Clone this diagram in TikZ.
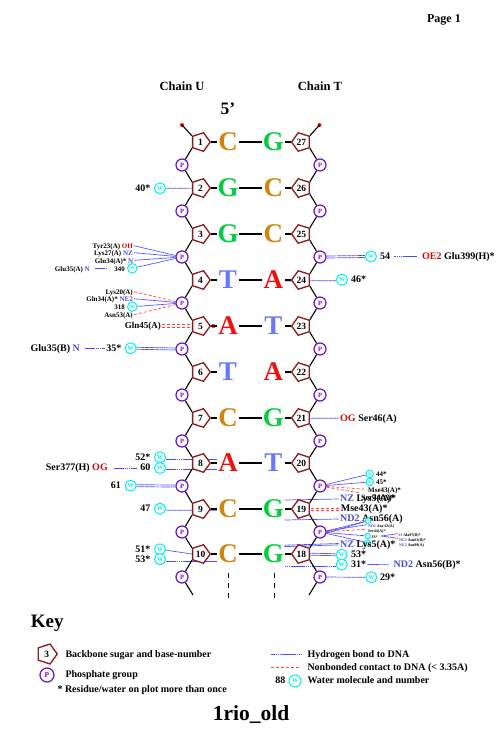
\documentclass[tikz,border=0pt]{standalone}
\usepackage{fontspec}
\setmainfont{Liberation Serif}
\usepackage{xcolor}
\usetikzlibrary{shapes.geometric,backgrounds}
\definecolor{sugarred}{HTML}{8B1A1A}
\definecolor{phospurple}{HTML}{6A10C8}
\definecolor{watercyan}{HTML}{00F0F0}
\definecolor{hbblue}{HTML}{4A4AFF}
\definecolor{nbred}{HTML}{FF4040}
\definecolor{atomred}{HTML}{CC0A0A}
\definecolor{atomblue}{HTML}{4A4AD8}
\definecolor{baseC}{HTML}{D0850F}
\definecolor{baseG}{HTML}{05CC40}
\definecolor{baseT}{HTML}{6A78FA}
\definecolor{baseA}{HTML}{F01010}
\newcommand{\px}[1]{\fontsize{#1}{#1}\selectfont\bfseries}
\newcommand{\atR}[1]{\textcolor{atomred}{#1}}
\newcommand{\atB}[1]{\textcolor{atomblue}{#1}}
\tikzset{
  sugarbox/.style={regular polygon,regular polygon sides=5,draw=sugarred,fill=white,line width=1.3pt,
    inner sep=0pt,minimum size=19.5pt,font=\px{9.5}},
  phos/.style={circle,draw=phospurple,text=phospurple,fill=white,line width=1.2pt,inner sep=0pt,
    minimum size=12pt,font=\px{6.5}},
  water/.style={circle,draw=watercyan,text=watercyan,fill=white,line width=1pt,inner sep=0pt,
    minimum size=11pt,font=\px{6}},
  watermid/.style={water,minimum size=9.5pt,font=\px{5}},
  watersm/.style={water,minimum size=7.5pt,font=\px{4}},
  waterti/.style={water,minimum size=5.5pt,font=\px{2.5}},
  basel/.style={inner sep=0pt,minimum width=22pt,font=\px{27}},
  lbl/.style={inner sep=1pt,text height=0.68em,text depth=0.14em,font=\px{#1}},
  lbl/.default=10,
  bb/.style={draw=black,line width=1.1pt},
  pairln/.style={draw=black,line width=1.2pt},
  hb/.style={draw=hbblue,line width=0.7pt,dash pattern=on 1.7pt off 0.4pt},
  nb/.style={draw=nbred,line width=0.7pt,dash pattern=on 3pt off 2pt},
}
\begin{document}
\begin{tikzpicture}[x=1pt,y=-1pt,font=\px{10}]
  \useasboundingbox (0,0) rectangle (502,752);
  %% headings
  \node[lbl=12,anchor=east] (page) at (462,20) {Page 1};
  \node[lbl=12.5] (chainU) at (182,88) {Chain U};
  \node[lbl=12.5] (chainT) at (320,88) {Chain T};
  \node[lbl=17.5] (fivep) at (228,112) {5’};
  %% backbone sugars, bases and phosphates, row by row
  \foreach \r/\yy/\bU/\cU/\bT/\cT/\nT/\pr in {
      1/142/C/baseC/G/baseG/27/1, 2/188/G/baseG/C/baseC/26/1, 3/234/G/baseG/C/baseC/25/1,
      4/280/T/baseT/A/baseA/24/1, 5/326/A/baseA/T/baseT/23/1, 6/372/T/baseT/A/baseA/22/0,
      7/418/C/baseC/G/baseG/21/1, 8/463/A/baseA/T/baseT/20/1, 9/509/C/baseC/G/baseG/19/1,
      10/554/C/baseC/G/baseG/18/1}{
    \node[sugarbox,shape border rotate=-90] (sugarU\r) at (200.5,\yy) {\r};
    \node[sugarbox,shape border rotate=90] (sugarT\r) at (301.3,\yy) {\nT};
    \node[basel,text=\cU] (baseU\r) at (228,\yy) {\bU};
    \node[basel,text=\cT] (baseT\r) at (273.3,\yy) {\bT};
    \node[phos] (phosU\r) at (182,\yy+23) {P};
    \node[phos] (phosT\r) at (320,\yy+23) {P};
    \draw[bb] (sugarU\r.corner 1) -- (baseU\r.west);
    \draw[bb] (sugarT\r.corner 1) -- (baseT\r.east);
    \draw[bb] (sugarU\r.corner 4) -- (phosU\r);
    \draw[bb] (sugarT\r.corner 3) -- (phosT\r);
    \ifnum\pr=1
      \draw[pairln] (baseU\r.east) -- (baseT\r.west);
    \fi
  }
  \foreach \r/\s in {1/2,2/3,3/4,4/5,5/6,6/7,7/8,8/9,9/10}{
    \draw[bb] (phosU\r) -- (sugarU\s.corner 3);
    \draw[bb] (phosT\r) -- (sugarT\s.corner 4);
  }
  %% free ends of the two chains
  \fill[red] (182,125) circle (2pt) coordinate (headU);
  \fill[red] (319.5,125) circle (2pt) coordinate (headT);
  \coordinate (tailU) at (193,595);
  \coordinate (tailT) at (309,595);
  \draw[bb] (headU) -- (sugarU1.corner 3);
  \draw[bb] (headT) -- (sugarT1.corner 4);
  \draw[bb] (phosU10) -- (tailU);
  \draw[bb] (phosT10) -- (tailT);
  \coordinate (dashU) at (228,573);
  \coordinate (dashUe) at (228,598);
  \coordinate (dashT) at (274,573);
  \coordinate (dashTe) at (274,598);
  \draw[line width=1pt,dash pattern=on 5pt off 5pt] (dashU) -- (dashUe);
  \draw[line width=1pt,dash pattern=on 5pt off 5pt] (dashT) -- (dashTe);
  %% chain U, contacts
  \node[water] (w40) at (160,188.3) {W};
  \node[lbl,anchor=east] (t40) at (151.5,188.5) {40*};
  \node[lbl=7,anchor=east] (tyr23) at (134,245.7) {Tyr23(A) \atR{OH}};
  \node[lbl=7,anchor=east] (lys27) at (134,252.7) {Lys27(A) \atB{NZ}};
  \node[lbl=7,anchor=east] (gln34a) at (134.5,260.3) {Gln34(A)* \atB{N}};
  \node[watermid] (w340) at (132.3,268.3) {W};
  \node[lbl=7,anchor=east] (t340) at (126,268.3) {340};
  \node[lbl=7,anchor=east] (glu35a) at (91,268.3) {Glu35(A) \atB{N}};
  \node[lbl=7,anchor=east] (lys20) at (134,291.7) {Lys20(A)};
  \node[lbl=7,anchor=east] (gln34b) at (134,298.7) {Gln34(A)* \atB{NE2}};
  \node[watermid] (w318) at (132.3,306.7) {W};
  \node[lbl=7,anchor=east] (t318) at (126,306.7) {318};
  \node[lbl=7,anchor=east] (asn53) at (134,314.7) {Asn53(A)};
  \node[lbl=9,anchor=east] (gln45) at (162,326) {Gln45(A)};
  \node[water] (w35) at (130.7,348.3) {W};
  \node[lbl,anchor=east] (t35) at (122.5,348.3) {35*};
  \node[lbl,anchor=east] (glu35b) at (81,348.3) {Glu35(B) \atB{N}};
  \node[water] (w52) at (160,457.3) {W};
  \node[lbl,anchor=east] (t52) at (151.5,457.3) {52*};
  \node[water] (w60) at (160,468) {W};
  \node[lbl,anchor=east] (t60) at (151.5,468) {60};
  \node[lbl,anchor=east] (ser377) at (109,468) {Ser377(H) \atR{OG}};
  \node[water] (w61) at (130.7,485.7) {W};
  \node[lbl,anchor=east] (t61) at (122,485.7) {61};
  \node[water] (w47) at (160,508.7) {W};
  \node[lbl,anchor=east] (t47) at (151.5,508.7) {47};
  \node[water] (w51) at (160,549.3) {W};
  \node[lbl,anchor=east] (t51) at (151.5,549.3) {51*};
  \node[water] (w53) at (160,559.3) {W};
  \node[lbl,anchor=east] (t53) at (151.5,559.3) {53*};
  %% chain T, contacts
  \node[water] (w54) at (371,256.5) {W};
  \node[lbl,anchor=west] (t54) at (379,256.5) {54};
  \node[lbl,anchor=west] (glu399) at (421,256.5) {\atR{OE2} Glu399(H)*};
  \node[water] (w46) at (342,279.7) {W};
  \node[lbl,anchor=west] (t46) at (350,279.7) {46*};
  \node[lbl,anchor=west] (ser46) at (339,418.3) {\atR{OG} Ser46(A)};
  \node[watersm] (w44) at (369.7,474) {W};
  \node[lbl=7,anchor=west] (t44) at (375,474) {44*};
  \node[watersm] (w45) at (369.7,482) {W};
  \node[lbl=7,anchor=west] (t45) at (375,482) {45*};
  \node[lbl=7,anchor=west] (mse43s) at (367,489.3) {Mse43(A)*};
  \node[lbl,anchor=west] (lys5a) at (339,499) {\atB{NZ} Lys5(A)*};
  \node[lbl=8,anchor=west] (gly63) at (360,498) {Ser44(A)*};
  \node[lbl,anchor=west] (mse43) at (339.7,509) {Mse43(A)*};
  \node[lbl,anchor=west] (asn56a) at (339,519) {\atB{ND2} Asn56(A)};
  \node[waterti] (w63) at (368,520.7) {W};
  \node[lbl=4,anchor=west] (asn63a) at (367,524.7) {\atB{ND2} Asn 63(A)};
  \node[lbl=4,anchor=west] (ser44s) at (367,529.3) {Ser44(A)*};
  \node[waterti] (w33) at (367.7,536) {W};
  \node[lbl=4,anchor=west] (t33) at (370.5,536) {33*};
  \node[waterti] (wlow) at (367.7,542.7) {W};
  \node[lbl=4,anchor=west] (ala97) at (398,533.7) {\atR{O} Ala97(B)*};
  \node[lbl=4,anchor=west] (asn63b) at (398,538.3) {\atB{NE2} Asn63(B)*};
  \node[lbl=4,anchor=west] (asn99) at (398,543.3) {\atB{NE2} Asn99(A)};
  \node[lbl,anchor=west] (lys5b) at (339,544.3) {\atB{NZ} Lys5(A)*};
  \node[water] (w53t) at (341.7,554.7) {W};
  \node[lbl,anchor=west] (t53t) at (350,554.7) {53*};
  \node[water] (w31) at (341.7,564.5) {W};
  \node[lbl,anchor=west] (t31) at (350,564.5) {31*};
  \node[lbl,anchor=west] (asn56b) at (392.5,564.7) {\atB{ND2} Asn56(B)*};
  \node[water] (w29) at (371.3,577.3) {W};
  \node[lbl,anchor=west] (t29) at (379,577.3) {29*};
  %% key
  \node[lbl=19,anchor=west,inner sep=0pt] (key) at (30.7,625) {Key};
  \node[sugarbox,shape border rotate=-90,minimum size=21pt] (keysugar) at (46.8,654) {3};
  \node[phos,minimum size=14pt,font=\px{7.5}] (keyphos) at (47,675) {P};
  \node[water,minimum size=12pt] (keywater) at (295,681) {W};
  \node[lbl,anchor=west,inner sep=0pt] (keysugart) at (65.3,655) {Backbone sugar and base-number};
  \node[lbl,anchor=west,inner sep=0pt] (keyphost) at (65.3,675) {Phosphate group};
  \node[lbl,anchor=west,inner sep=0pt] (keystar) at (57.3,690) {* Residue/water on plot more than once};
  \node[lbl,anchor=west,inner sep=0pt] (keyhbt) at (307.3,655) {Hydrogen bond to DNA};
  \node[lbl,anchor=west,inner sep=0pt] (keynbt) at (307.3,667.7) {Nonbonded contact to DNA (< 3.35A)};
  \node[lbl,anchor=west,inner sep=0pt] (keywatert) at (307.3,681) {Water molecule and number};
  \node[lbl,anchor=east,inner sep=0pt] (key88) at (285.5,681) {88};
  \coordinate (keyhbA) at (271.3,654);
  \coordinate (keyhbB) at (301.3,654);
  \coordinate (keynbA) at (271.3,667.3);
  \coordinate (keynbB) at (301.3,667.3);
  \draw[hb] (keyhbA) -- (keyhbB);
  \draw[nb] (keynbA) -- (keynbB);
  \node[lbl=21.5] (title) at (251,718) {1rio\_old};
  %% hydrogen bonds and contacts go under the nodes
  \begin{scope}[on background layer]
    \draw[hb] (w40) -- (baseU2.west);
    \draw[hb] (tyr23.east) -- (phosU3);
    \draw[hb] (lys27.east) -- (phosU3);
    \draw[hb] (gln34a.east) -- (phosU3);
    \draw[hb] (w340) -- (phosU3);
    \draw[hb,shorten <=4pt,shorten >=7pt] (glu35a.east) -- (t340.west);
    \draw[nb] (lys20.east) -- (phosU4);
    \draw[hb] (gln34b.east) -- (phosU4);
    \draw[hb] (w318) -- (phosU4);
    \draw[nb] (asn53.east) -- (phosU4);
    \draw[nb] ([yshift=1.7pt]gln45.east) -- ([yshift=1.7pt]baseU5.west);
    \draw[nb] ([yshift=-1.7pt]gln45.east) -- ([yshift=-1.7pt]baseU5.west);
    \draw[hb,shorten <=4pt] (glu35b.east) -- (t35.west);
    \draw[hb] ([yshift=1pt]w35.east) -- ([yshift=1pt]phosU5.west);
    \draw[hb] ([yshift=-1pt]w35.east) -- ([yshift=-1pt]phosU5.west);
    \draw[hb] ([yshift=-2pt]w52.east) -- ([yshift=3.7pt]baseU8.west);
    \draw[hb] ([yshift=-1.3pt]w60.east) -- ([yshift=-6.3pt]baseU8.west);
    \draw[hb,shorten <=5pt,shorten >=2pt] (ser377.east) -- (t60.west);
    \draw[hb] ([yshift=1pt]w61.east) -- ([yshift=1pt]phosU8.west);
    \draw[hb] ([yshift=-1pt]w61.east) -- ([yshift=-1pt]phosU8.west);
    \draw[hb] ([yshift=-1.5pt]w47.east) -- ([yshift=-1.3pt]baseU9.west);
    \draw[hb] (w51) -- (sugarU10.corner 3 |- sugarU10);
    \draw[hb] ([yshift=-2pt]w53.east) -- ([yshift=-7.3pt]baseU10.west);
    %% chain T side
    \draw[hb] ([yshift=1pt]phosT3.east) -- ([yshift=1pt]w54.west);
    \draw[hb] ([yshift=-1pt]phosT3.east) -- ([yshift=-1pt]w54.west);
    \draw[hb,shorten <=3pt,shorten >=4pt] (t54.east) -- (glu399.west);
    \draw[hb] ([yshift=-1pt]baseT4.east) -- ([yshift=-1pt]w46.west);
    \draw[hb] (baseT7.east) -- (ser46.west);
    \draw[hb] (phosT8) -- (w44);
    \draw[hb] (phosT8) -- (w45);
    \draw[nb] (phosT8) -- (mse43s.west);
    \draw[nb] (phosT8) -- ([yshift=5pt]gly63.west);
    \draw[hb] ([yshift=9pt]baseT9.east) -- (lys5a.west);
    \draw[nb] ([yshift=1pt]sugarT9.center) -- ([yshift=1pt]mse43.west);
    \draw[nb] ([yshift=-1pt]sugarT9.center) -- ([yshift=-1pt]mse43.west);
    \draw[hb] ([yshift=-11pt]baseT9.east) -- (asn56a.west);
    \draw[hb] ([yshift=1pt]phosT9.east) -- (w63);
    \draw[hb] ([yshift=-1pt]phosT9.east) -- (w63);
    \draw[hb] (phosT9) -- (asn63a.west);
    \draw[nb] (phosT9) -- (ser44s.west);
    \draw[hb] (phosT9) -- (w33);
    \draw[hb] (phosT9) -- (wlow);
    \draw[hb] (ala97.west) -- ([xshift=2pt]t33.east);
    \draw[hb] (asn63b.west) -- ([xshift=2pt]t33.east);
    \draw[hb] ([yshift=8.8pt]baseT10.east) -- ([yshift=0.8pt]lys5b.west);
    \draw[hb] ([yshift=7.4pt]baseT10.east) -- ([yshift=-0.6pt]lys5b.west);
    \draw[hb] ([yshift=1pt]sugarT10.center) -- ([yshift=1pt]w53t.west);
    \draw[hb] ([yshift=-1pt]sugarT10.center) -- ([yshift=-1pt]w53t.west);
    \draw[hb] ([yshift=-12pt]baseT10.east) -- ([yshift=-1.5pt]w31.west);
    \draw[hb,shorten >=4pt] (t31.east) -- (asn56b.west);
    \draw[hb] (phosT10) -- (w29);
  \end{scope}
\end{tikzpicture}
\end{document}
